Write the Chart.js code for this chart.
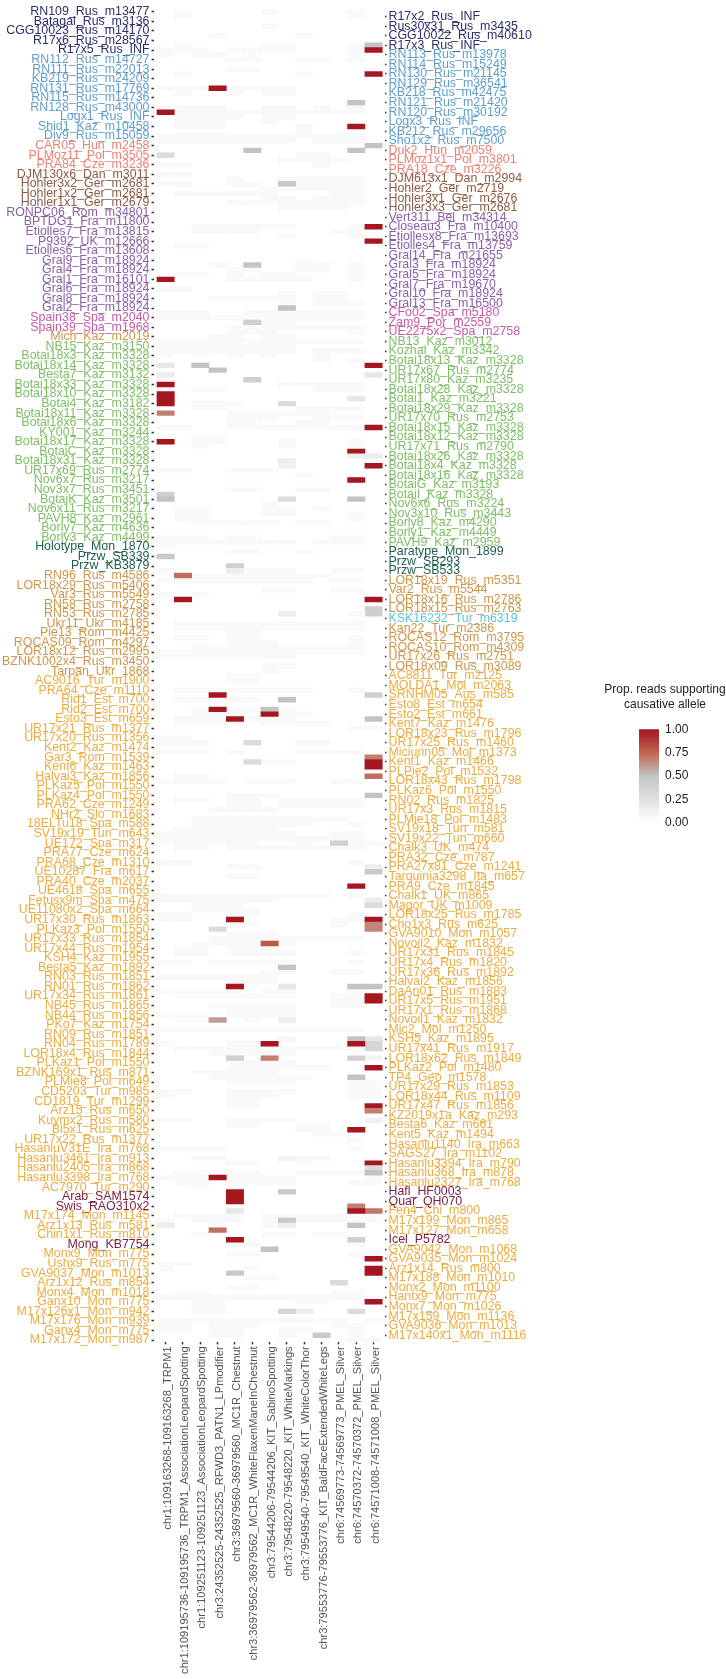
<!DOCTYPE html>
<html>
<head>
<meta charset="utf-8">
<title>Prop. reads supporting causative allele</title>
<script src="https://cdn.jsdelivr.net/npm/chart.js@4/dist/chart.umd.min.js"></script>
<style>
  body { margin: 0; background: #fff; font-family: "Liberation Sans", sans-serif; }
  #heatmap { position: absolute; left: 0; top: 0; }
  #colorbar { position: absolute; left: 639px; top: 716px; }
  #legend-title { position: absolute; left: 585px; top: 682px; width: 160px; text-align: center; font-size: 12px; line-height: 15px; color: #222; }
</style>
</head>
<body>
<canvas id="heatmap" width="726" height="1679"></canvas>
<div id="legend-title">Prop. reads supporting<br>causative allele</div>
<canvas id="colorbar" width="87" height="120"></canvas>
<script>
const columnNames = [
  'chr1:109163268-109163268_TRPM1',
  'chr1:109195736-109195736_TRPM1_AssociationLeopardSpotting',
  'chr1:109251123-109251123_AssociationLeopardSpotting',
  'chr3:24352525-24352525_RFWD3_PATN1_LPmodifier',
  'chr3:36979560-36979560_MC1R_Chestnut',
  'chr3:36979562-36979562_MC1R_WhiteFlaxenManeInChestnut',
  'chr3:79544206-79544206_KIT_SabinoSpotting',
  'chr3:79548220-79548220_KIT_WhiteMarkings',
  'chr3:79549540-79549540_KIT_WhiteColorThor',
  'chr3:79553776-79553776_KIT_BaldFaceExtendedWhiteLegs',
  'chr6:74569773-74569773_PMEL_Silver',
  'chr6:74570372-74570372_PMEL_Silver',
  'chr6:74571008-74571008_PMEL_Silver'
];

// samples labelled on the left axis, top to bottom
const leftLabels = [
  'RN109_Rus_m13477','Batagai_Rus_m3136','CGG10023_Rus_m14170','R17x6_Rus_m28567','R17x5_Rus_INF',
  'RN112_Rus_m14727','RN111_Rus_m22013','KB219_Rus_m24209','RN131_Rus_m17769','RN115_Rus_m14736',
  'RN128_Rus_m43000','Logx1_Rus_INF','Shid1_Kaz_m10458','Div9_Rus_m15059','CAR05_Hun_m2458',
  'PLMoz11_Pol_m3505','PRA84_Cze_m3236','DJM130x6_Dan_m3011','Hohler3x2_Ger_m2681','Hohler1x2_Ger_m2681',
  'Hohler1x1_Ger_m2679','RONPC06_Rom_m34801','BPTDG1_Fra_m11800','Etiolles7_Fra_m13815','P9392_UK_m12666',
  'Etiolles6_Fra_m13608','Gral9_Fra_m18924','Gral4_Fra_m18924','Gral1_Fra_m16101','Gral6_Fra_m18924',
  'Gral8_Fra_m18924','Gral2_Fra_m18924','Spain38_Spa_m2040','Spain39_Spa_m1968','Mich_Kaz_m2019',
  'NB15_Kaz_m3150','Botai18x3_Kaz_m3328','Botai18x14_Kaz_m3328','Besta7_Kaz_m3132','Botai18x33_Kaz_m3328',
  'Botai18x10_Kaz_m3328','Botai4_Kaz_m3182','Botai18x11_Kaz_m3328','Botai18x6_Kaz_m3328','KY001_Kaz_m3244',
  'Botai18x17_Kaz_m3328','BotaiC_Kaz_m3328','Botai18x31_Kaz_m3328','UR17x69_Rus_m2774','Nov6x7_Rus_m3217',
  'Nov3x7_Rus_m3451','BotaiK_Kaz_m3501','Nov6x11_Rus_m3217','PAVH8_Kaz_m2961','Borly7_Kaz_m4636',
  'Borly3_Kaz_m4499','Holotype_Mon_1870','Przw_SB339','Przw_KB3879','RN96_Rus_m4586',
  'LOR18x29_Rus_m5406','Var3_Rus_m5549','RN58_Rus_m2758','RN53_Rus_m2785','Ukr11_Ukr_m4185',
  'Pie13_Rom_m4425','ROCAS09_Rom_m4297','LOR18x12_Rus_m2995','BZNK1002x4_Rus_m3450','Tarpan_Ukr_1868',
  'AC9016_Tur_m1900','PRA64_Cze_m1110','Rid1_Est_m700','Rid2_Est_m700','Esto3_Est_m659',
  'UR17x21_Rus_m1377','UR17x20_Rus_m1356','Kent2_Kaz_m1474','Gar3_Rom_m1539','Kent6_Kaz_m1463',
  'Halvai3_Kaz_m1856','PLKaz5_Pol_m1550','PLKaz4_Pol_m1550','PRA62_Cze_m1249','NHr2_Slo_m1683',
  '18ELTu18_Spa_m588','SV19x19_Tun_m643','UE172_Spa_m317','PRA77_Cze_m624','PRA68_Cze_m1310',
  'UE10287_Fra_m617','PRA40_Cze_m2037','UE4618_Spa_m655','Fetusx9m_Spa_m475','UE11080x2_Spa_m664',
  'UR17x30_Rus_m1863','PLKaz3_Pol_m1550','UR17x33_Rus_m1854','UR17x44_Rus_m1954','KSH4_Kaz_m1955',
  'Besta5_Kaz_m1892','RN03_Rus_m1851','RN01_Rus_m1862','UR17x34_Rus_m1861','NB45_Rus_m1865',
  'NB44_Rus_m1856','PKo7_Kaz_m1754','RN09_Rus_m1851','RN04_Rus_m1789','LOR18x4_Rus_m1844',
  'PLKaz1_Pol_m1550','BZNK169x1_Rus_m871','PLMie8_Pol_m649','CD5203_Tur_m985','CD1819_Tur_m1299',
  'Arz15_Rus_m650','Kuymx2_Rus_m580','Bi5x1_Rus_m625','UR17x22_Rus_m1377','HasanluV31E_Ira_m768',
  'Hasanlu3461_Ira_m913','Hasanlu2405_Ira_m868','Hasanlu3398_Ira_m768','AC7970_Tur_m290','Arab_SAM1574',
  'Swis_RAO310x2','M17x174_Mon_m1145','Arz1x13_Rus_m581','Chin1x1_Rus_m810','Mong_KB7754',
  'Monx9_Mon_m775','Ushx9_Rus_m775','GVA9037_Mon_m1013','Arz1x12_Rus_m854','Monx4_Mon_m1018',
  'Ganx10_Mon_m775','M17x126x1_Mon_m942','M17x176_Mon_m939','Ganx4_Mon_m775','M17x172_Mon_m987'
];

// samples labelled on the right axis, they sit between the left ones
const rightLabels = [
  'R17x2_Rus_INF','Rus30x31_Rus_m3435','CGG10022_Rus_m40610','R17x3_Rus_INF','RN113_Rus_m13978',
  'RN114_Rus_m15249','RN130_Rus_m21145','RN129_Rus_m36541','KB218_Rus_m42475','RN121_Rus_m21420',
  'RN120_Rus_m30192','Logx3_Rus_INF','KB212_Rus_m29656','Sho1x2_Rus_m7500','Duk2_Hun_m2059',
  'PLMoz1x1_Pol_m3801','PRA18_Cze_m3226','DJM613x1_Dan_m2994','Hohler2_Ger_m2719','Hohler3x1_Ger_m2676',
  'Hohler3x3_Ger_m2681','Vert311_Bel_m34314','Closeau3_Fra_m10400','Etiollesx8_Fra_m13693','Etiolles4_Fra_m13759',
  'Gral14_Fra_m21655','Gral3_Fra_m18924','Gral5_Fra_m18924','Gral7_Fra_m19670','Gral10_Fra_m18924',
  'Gral13_Fra_m16500','CFo02_Spa_m5180','Zam9_Por_m2559','UE2275x2_Spa_m2758','NB13_Kaz_m3012',
  'Kozhai_Kaz_m3342','Botai18x13_Kaz_m3328','UR17x67_Rus_m2774','UR17x80_Kaz_m3235','Botai18x28_Kaz_m3328',
  'Botai1_Kaz_m3221','Botai18x29_Kaz_m3328','UR17x70_Rus_m2753','Botai18x15_Kaz_m3328','Botai18x12_Kaz_m3328',
  'UR17x71_Rus_m2790','Botai18x26_Kaz_m3328','Botai18x4_Kaz_m3328','Botai18x16_Kaz_m3328','BotaiG_Kaz_m3193',
  'BotaiI_Kaz_m3328','Nov6x6_Rus_m3224','Nov3x10_Rus_m3443','Borly8_Kaz_m4290','Borly1_Kaz_m4449',
  'PAVH9_Kaz_m2959','Paratype_Mon_1899','Przw_SB293','Przw_SB533','LOR18x19_Rus_m5351',
  'Var2_Rus_m5544','LOR18x16_Rus_m2786','LOR18x15_Rus_m2763','KSK16232_Tur_m6319','Kan22_Tur_m2386',
  'ROCAS12_Rom_m3795','ROCAS10_Rom_m4309','UR17x26_Rus_m2751','LOR18x09_Rus_m3089','AC8811_Tur_m2125',
  'MOLDA1_Mol_m2063','SRNHM05_Aus_m585','Esto8_Est_m654','Esto2_Est_m661','Kent7_Kaz_m1476',
  'LOR18x23_Rus_m1796','UR17x25_Rus_m1460','Miciurin05_Mol_m1373','Kent1_Kaz_m1466','PLPie2_Pol_m1532',
  'LOR18x43_Rus_m1798','PLKaz6_Pol_m1550','RN02_Rus_m1825','UR17x3_Rus_m1815','PLMie18_Pol_m1483',
  'SV19x18_Tun_m581','SV19x22_Tun_m660','Chalk3_UK_m474','PRA32_Cze_m787','PRA27x81_Cze_m1241',
  'Tarquinia3298_Ita_m657','PRA9_Cze_m1845','Chalk1_UK_m865','Magor_UK_m1009','LOR18x25_Rus_m1785',
  'Cho1x3_Rus_m625','GVA9010_Mon_m1057','Novoil2_Kaz_m1832','UR17x31_Rus_m1845','UR17x4_Rus_m1820',
  'UR17x36_Rus_m1892','Halvai2_Kaz_m1856','DaAn01_Rus_m1883','UR17x5_Rus_m1951','UR17x1_Rus_m1868',
  'Novoil1_Kaz_m1832','Mic2_Mol_m1250','KSH5_Kaz_m1895','UR17x41_Rus_m1917','LOR18x62_Rus_m1849',
  'PLKaz2_Pol_m1480','TP4_Geo_m1578','UR17x29_Rus_m1853','LOR18x44_Rus_m1109','UR17x47_Rus_m1856',
  'KZ2019x1a_Kaz_m293','Besta6_Kaz_m661','Kent5_Kaz_m1494','Hasanlu1140_Ira_m663','SAGS27_Ira_m1102',
  'Hasanlu3394_Ira_m790','Hasanlu368_Ira_m878','Hasanlu2327_Ira_m768','Hafl_HF0003','Quar_QH070',
  'Fen4_Chi_m800','M17x199_Mon_m865','M17x127_Mon_m658','Icel_P5782','GVA9042_Mon_m1068',
  'GVA9035_Mon_m1024','Arz1x14_Rus_m800','M17x188_Mon_m1010','Monx2_Mon_m1100','Hantx9_Mon_m775',
  'Monx7_Mon_m1026','M17x159_Mon_m1136','GVA9036_Mon_m1013','M17x140x1_Mon_m1116'
];

// group of each label, as [group, how many in a row]
const leftGroups = [['navy',5],['blue',9],['salmon',3],['brown',4],['purple',11],['magenta',2],['tan',1],['green',21],['darkGreen',3],['tan',11],['gold',54],['maroon',2],['gold',3],['maroon',1],['gold',10]];
const rightGroups = [['navy',4],['blue',10],['salmon',3],['brown',4],['purple',10],['magenta',3],['green',22],['darkGreen',3],['tan',4],['cyan',1],['tan',5],['gold',54],['maroon',2],['gold',3],['maroon',1],['gold',10]];

// readable cells of each column, as [row number from the top, value]
const col1 = [[21,1],[30,.3],[56,1],[74,.2],[76,.15],[78,1],[80,1],[81,1],[82,1],[84,.68],[90,1],[101,.4],[102,.5],[114,.45],[254,.15]];
const col2 = [[118,.72],[123,1]];
const col3 = [[74,.5]];
const col4 = [[16,1],[75,.5],[143,1],[146,1],[192,.3],[211,.6],[244,1],[255,.72]];
const col5 = [[116,.4],[117,.15],[148,1],[190,1],[204,1],[219,.4],[247,1],[248,1],[249,1],[251,.2],[257,1],[264,.45]];
const col6 = [[29,.5],[53,.5],[65,.4],[77,.4],[153,.3],[157,.3]];
const col7 = [[146,.5],[147,1],[195,.78],[216,1],[219,.68],[259,.5]];
const col8 = [[36,.45],[62,.5],[82,.3],[94,.15],[95,.12],[102,.3],[126,.15],[144,.5],[200,.5],[204,.2],[211,.15],[215,.08],[240,.1],[247,.45],[253,.45],[254,.15],[272,.35]];
const col9 = [[272,.15]];
const col10 = [[277,.45]];
const col11 = [[174,.4],[266,.3]];
const col12 = [[19,.5],[24,1],[29,.5],[81,.2],[92,1],[93,.15],[98,1],[102,.5],[126,.05],[183,1],[204,.5],[215,.5],[216,1],[219,.4],[223,.5],[234,1],[250,.68],[251,1],[254,.5],[257,.4],[272,.3]];
const col13 = [[7,.5],[8,1],[13,1],[28,.5],[45,1],[48,1],[74,1],[76,.2],[87,1],[93,.15],[95,1],[123,1],[125,.4],[126,.4],[143,.4],[148,.5],[156,.68],[157,1],[158,1],[160,.72],[164,.5],[179,.15],[180,.45],[186,.15],[187,.3],[190,1],[191,.66],[192,.66],[204,.5],[206,1],[207,1],[215,.2],[216,.35],[217,.35],[219,.1],[221,1],[229,1],[230,.68],[232,.12],[241,1],[242,.3],[243,.5],[251,.7],[261,1],[263,1],[264,1],[270,1]];
const columns = [col1,col2,col3,col4,col5,col6,col7,col8,col9,col10,col11,col12,col13];

// very low cells, too faint to tell apart: [row number, column numbers]
const faintLevel = 0.05;
const faintRows = [
  [0,'2 7 12'],[1,'2 12'],[3,'7'],[5,'4 9'],[7,'2 7 8 12'],[8,'1 2 3 5 6 7 8 12'],[9,'1 3 4 6 12'],[10,'5 6 9 10 12'],
  [12,'5 6'],[13,'2 9'],[16,'1 2 3 4 5 6 7 8'],[17,'2 5 7 8'],[20,'1 2 3 4 7 8 10 12'],[21,'2 3 4 5 6 7 8 9 10 11 12'],
  [22,'2 3 4 5 7 8'],[23,'2 3 4 7'],[24,'2 3 4 9'],[25,'9'],[26,'1 2 3 4 5 6 7 8 9 10 11 12'],[27,'1 2 3 4 5 6 7 8 10 11 12'],
  [30,'9 10'],[31,'8 9 10 11'],[32,'1 2 10'],[34,'1 2'],[35,'5 8 9 10 11 12'],[36,'1 2 5 6 9 10 11 12'],[37,'7 8 9 10 11 12'],
  [38,'2 3 4 5 6 7 11 12'],[39,'7 8 10 11 12'],[40,'5 6 7 8 9 10 11 12'],[41,'8 9 10 11'],[45,'3 4 5 6 7 8 12'],[46,'3 4 5 6 11 12'],
  [47,'8 12'],[49,'2 3'],[52,'9'],[53,'4 9 10 12'],[54,'5 6 9 10 12'],[55,'2 3 5 7 8 12'],[56,'5 6 7 8 9 12'],[58,'1 2'],
  [59,'8 10 11'],[60,'4 5 6 7 8 10 11'],[61,'8 10 11 12'],[63,'1 2 3 6 7 8 9 10 11 12'],[64,'1 2 3 4 5 6 7 8 9 10 11 12'],
  [65,'7 8'],[66,'5 6 7 8 9 10 11 12'],[67,'5 6 7 12'],[68,'4 5 7 8'],[69,'1 2 3 4 5 6 7 8 9 10 11 12'],[70,'1 2 3 4 5 6 7 8'],
  [71,'1 2 3 4 5 6 7 8 10 11 12'],[72,'1 3 5 7 10'],[73,'10 12'],[78,'8 9 10 11 12'],[79,'3 4 10 11 12'],[82,'3 4 5'],
  [83,'3 4 9 10 11 12'],[84,'5 6 7 8 9 10'],[85,'5 6 7 10 11 12'],[86,'5 6 9 10'],[87,'1 2 5 6 7 8 9 10 11 12'],[89,'3 4'],
  [90,'3 4 8 12'],[91,'3 8 12'],[96,'1 2 5 6 7'],[97,'9'],[100,'5 6 9 10'],[103,'7'],[104,'2 3 7 8 10'],[105,'2 3 7 8 12'],
  [106,'2 3 12'],[107,'3 4 5 6 7 9 10'],[110,'1 2 3 5 6 11 12'],[111,'1 2 3 4 5 6 7 8 10 11 12'],[112,'1'],[113,'5 6 9'],
  [117,'1 6 7 8 11 12'],[118,'3 4 5 6 7 8 9 10'],[119,'1 2 3 4 5 6 7 8 9 11 12'],[121,'7 8 11 12'],[122,'1 3'],
  [128,'2 3 4 5 6 7 8 9 10 11 12'],[129,'2 3 4 5 6 7 8 9 10 11 12'],[130,'5 6'],[131,'2 3 5 6 12'],[132,'5 6 7 12'],
  [133,'3 4 5 6 7 8 9 10 11 12'],[134,'1 2 3 4 5 6 7 8 9 10 11 12'],[135,'1 2 3 4 5 6 7 8'],[137,'7 8'],[138,'7'],[139,'5 6'],
  [140,'5 6'],[142,'2 3 4 5 6 7 8 9 12'],[144,'2 3 5 6'],[146,'3 5 6 7 8'],[147,'3 4 5 8 9'],[148,'2 3 4 6 7 8'],
  [149,'2 3 4 7 8 9 10'],[150,'12 13'],[152,'1 2'],[153,'1 2 3 9 10'],[155,'1 2 3 5 9 10 11 12'],[157,'7 8'],[160,'2 3'],
  [161,'1 2 3 4 6 7 8 11 12'],[164,'5 6 7'],[165,'2 3 5 6 8 9 10 11 12'],[166,'5 6 8 9 10 11 12'],[167,'4 5 6 7'],
  [169,'3 4 5 6 7 8 9 10 11'],[170,'3 4 5 6 7 8 9 12'],[171,'2 3 4 5 6 7'],[172,'1 2 3 4 5 6 7 8 11 12'],
  [173,'1 2 3 4 5 6 7 8 9 10 11 12'],[174,'1 2 3 4 5 6 9 12 13'],[175,'2 3 5 6 7 8 9 10 11 12'],[178,'1 2 12'],[179,'5 6'],
  [181,'5 6'],[185,'1 2 3 4 5 6 7 8 9 10 12'],[186,'1 2 3 4 5 6 7'],[187,'3 4 5'],[188,'3 4 5 6'],[189,'1 2 5 6 12'],
  [190,'1 2 11 12'],[191,'5 6 11'],[193,'5 6 7'],[194,'4 5 6 7 8 9 10 11 12'],[195,'3 4 5 6 8'],[196,'2 3 5 6 7'],
  [197,'2 3 5 6 7 8 12'],[199,'1 2 4 5 6 7 8 12'],[201,'7 8 11 12'],[202,'1 2 3 4 5 6 7'],[203,'5 6 7'],[205,'1 2 3 4 5 7 8 12'],
  [206,'2 3 4 5 6 7 8 11 12'],[207,'11 12'],[208,'4 5 6 7 8 11 12'],[209,'5 6 7 8'],[210,'1 2 3 5 6 7 8'],[211,'2 3 6'],
  [213,'1 2 3 4 5 6 7 8 9 10 11 12'],[216,'1 5 6'],[217,'2 3 4 5 6 7 8 9 10 11 12'],[218,'4 5 6 7 8'],[220,'5 6 7 8'],
  [221,'5 6 7 8 9 10'],[222,'3 4 5 6 7'],[223,'4 5 6 7 8 9'],[224,'5 6 7 8 12 13'],[225,'12 13'],[226,'1 2 5 6 7 8 12 13'],
  [227,'1 5 6 7 12 13'],[228,'5 6'],[229,'5 6'],[232,'1 2 5 6 7 8'],[233,'5 6 9 10'],[234,'9 10 12'],[235,'10 11'],[236,'12'],
  [238,'1 2 3 4 12'],[240,'3 4 9 10'],[241,'5 6 9'],[243,'2 3 5 6 9 10 11 12'],[244,'1 2 3 5 6 7 8 13'],[245,'2 3 5 6 7 8 12 13'],
  [246,'3 5'],[252,'2 3 4 5 7 8 9 10 11 12 13'],[253,'1 3 4 5 7 9 10 11 12 13'],[254,'4 7'],[256,'3 7 8 10 11'],[258,'5 6 12'],
  [260,'5 6 12 13'],[262,'1 2'],[263,'1 6'],[265,'6 7'],[267,'5 6'],[268,'2 3 11 12'],[269,'1 2 3 4 5 6 7 8 9 10 11 12'],
  [270,'3 4 9 10'],[271,'3 4'],[272,'3 4'],[274,'1 2 3 4 5 6 7 8 9 10 11 13'],[275,'1 2 4 5 6 11 12'],[276,'1 2 4 5 8 9 12'],
  [277,'4 5 8 12'],[278,'12 13']
];

const legendTicks = [0, 0.25, 0.5, 0.75, 1];

const groupColors = {
  navy: '#2c2f6e', blue: '#5f9ecb', salmon: '#ee8176', brown: '#8b5b45', purple: '#8a60a9',
  magenta: '#c658a8', green: '#7dbf64', darkGreen: '#1f5d50', tan: '#cf9549', cyan: '#5cc6d0',
  gold: '#edac40', maroon: '#7a1c43'
};

// colour ramp of the fill scale
const rampStops = [
  [0, [255, 255, 255]],
  [0.5, [195, 195, 195]],
  [0.75, [192, 100, 80]],
  [1, [166, 22, 30]]
];

function fillFor(value) {
  for (let i = 1; i < rampStops.length; i++) {
    const [v0, c0] = rampStops[i - 1];
    const [v1, c1] = rampStops[i];
    if (value <= v1) {
      const t = (value - v0) / (v1 - v0);
      const rgb = c0.map((c, j) => Math.round(c + (c1[j] - c) * t));
      return `rgb(${rgb.join(',')})`;
    }
  }
  return 'rgb(166,22,30)';
}

function expandGroups(groups) {
  const out = [];
  groups.forEach(([name, n]) => {
    for (let i = 0; i < n; i++) out.push(groupColors[name]);
  });
  return out;
}

// the rows alternate: left label, right label, left label...
const leftColors = expandGroups(leftGroups);
const rightColors = expandGroups(rightGroups);
const rows = [];
const rowColors = [];
leftLabels.forEach((label, i) => {
  rows.push(label);
  rowColors.push(leftColors[i]);
  if (i < rightLabels.length) {
    rows.push(rightLabels[i]);
    rowColors.push(rightColors[i]);
  }
});

const datasets = columns.map((cells, c) => ({
  label: columnNames[c],
  order: 1,
  grouped: false,
  data: cells.map(([row]) => ({ x: [c, c + 1], y: rows[row] })),
  backgroundColor: cells.map(([, v]) => fillFor(v))
}));

const faintData = [];
faintRows.forEach(([row, cols]) => {
  cols.split(' ').forEach(col => {
    const c = Number(col) - 1;
    faintData.push({ x: [c, c + 1], y: rows[row] });
  });
});
datasets.push({
  label: 'low',
  order: 2,
  grouped: false,
  data: faintData,
  backgroundColor: fillFor(faintLevel)
});

const font = { family: '"Liberation Sans", sans-serif', size: 12.4 };

function sideAxis(position, remainder, width) {
  return {
    type: 'category',
    position: position,
    labels: rows,
    offset: true,
    border: { display: false },
    grid: { drawOnChartArea: false, offset: false, tickLength: 2, tickWidth: 1.5, tickColor: '#333' },
    ticks: {
      autoSkip: false,
      padding: 2,
      font: font,
      color: ctx => rowColors[ctx.tick.value]
    },
    afterBuildTicks: scale => {
      scale.ticks = scale.ticks.filter(t => t.value % 2 === remainder);
    },
    afterFit: scale => {
      scale.width = width;
    }
  };
}

new Chart(document.getElementById('heatmap'), {
  type: 'bar',
  data: { labels: rows, datasets: datasets },
  options: {
    indexAxis: 'y',
    responsive: false,
    animation: false,
    layout: { padding: { top: 6.8, left: 0, right: 0, bottom: 0 } },
    plugins: { legend: { display: false }, tooltip: { enabled: false } },
    datasets: { bar: { barPercentage: 1, categoryPercentage: 1, borderWidth: 0 } },
    scales: {
      x: {
        type: 'linear',
        position: 'bottom',
        min: -0.2,
        max: 13.13,
        border: { display: false },
        grid: { drawOnChartArea: false, tickLength: 2, tickWidth: 1.5, tickColor: '#333' },
        ticks: {
          autoSkip: false,
          minRotation: 90,
          maxRotation: 90,
          padding: 2,
          labelOffset: 2,
          font: { family: '"Liberation Sans", sans-serif', size: 11.1 },
          color: '#555',
          callback: value => columnNames[value - 0.5]
        },
        afterBuildTicks: scale => {
          scale.ticks = columnNames.map((name, c) => ({ value: c + 0.5 }));
        },
        afterFit: scale => {
          scale.height = 336.6;
        }
      },
      y: sideAxis('left', 0, 153.5),
      y1: sideAxis('right', 1, 341.5)
    }
  }
});

// colour bar of the legend
new Chart(document.getElementById('colorbar'), {
  type: 'bar',
  data: {
    labels: ['fill'],
    datasets: [{
      data: [[0, 1]],
      barPercentage: 1,
      categoryPercentage: 1,
      backgroundColor: ctx => {
        const area = ctx.chart.chartArea;
        if (!area) return '#ccc';
        const gradient = ctx.chart.ctx.createLinearGradient(0, area.bottom, 0, area.top);
        legendTicks.forEach(v => gradient.addColorStop(v, fillFor(v)));
        return gradient;
      }
    }]
  },
  options: {
    responsive: false,
    animation: false,
    layout: { padding: { top: 10, bottom: 13 } },
    plugins: { legend: { display: false }, tooltip: { enabled: false } },
    scales: {
      x: { display: false },
      y: {
        position: 'right',
        min: 0,
        max: 1,
        border: { display: false },
        grid: { display: false, drawTicks: false },
        ticks: {
          stepSize: 0.25,
          padding: 6,
          font: { family: '"Liberation Sans", sans-serif', size: 12 },
          color: '#222',
          callback: value => value.toFixed(2)
        },
        afterFit: scale => {
          scale.width = 67;
        }
      }
    }
  }
});
</script>
</body>
</html>
